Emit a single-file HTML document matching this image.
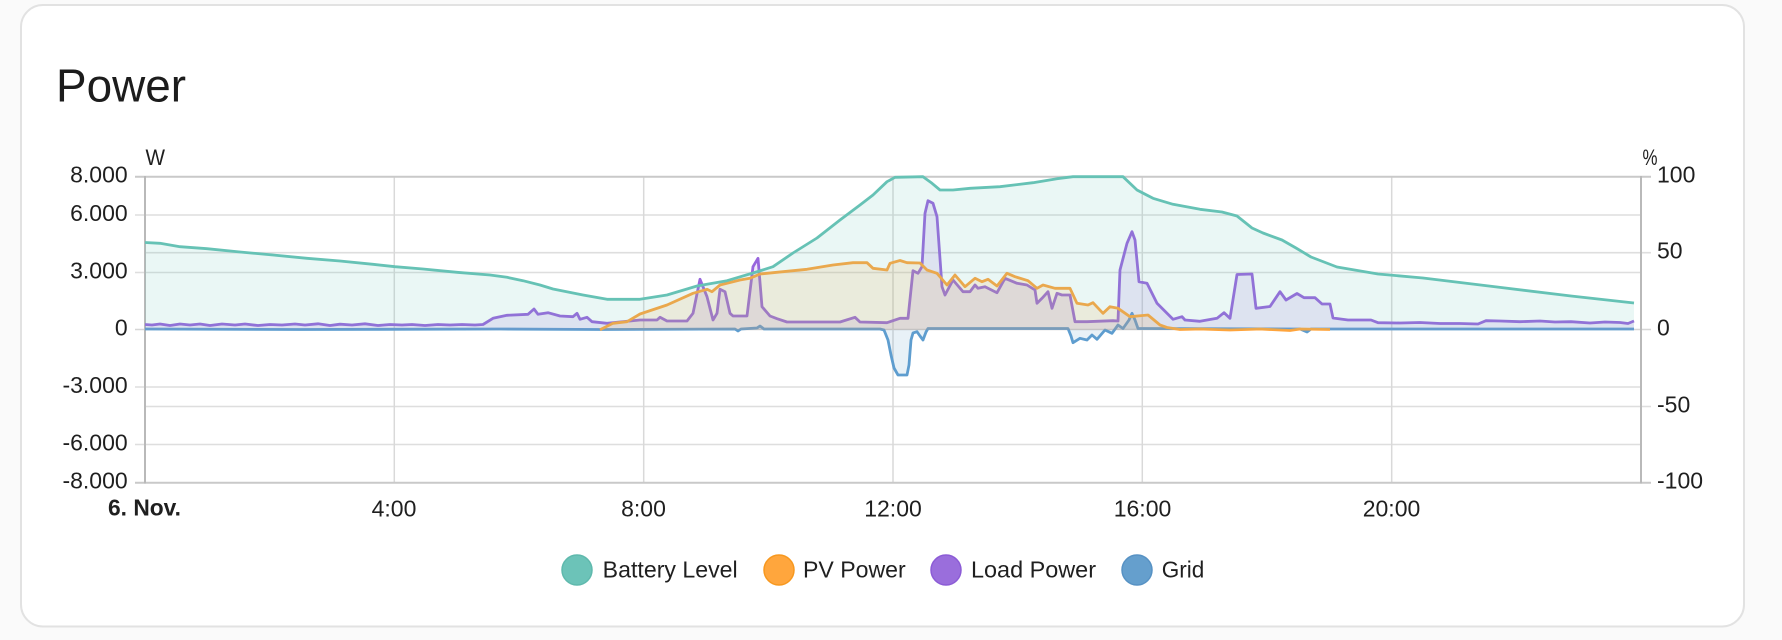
<!DOCTYPE html>
<html><head><meta charset="utf-8"><style>
html,body{margin:0;padding:0;background:#fafafa;}
svg{display:block;font-family:"Liberation Sans",Arial,sans-serif;}
</style></head><body>
<svg width="1782" height="640" viewBox="0 0 1782 640" xmlns="http://www.w3.org/2000/svg">
<rect x="0" y="0" width="1782" height="640" fill="#fafafa"/>
<rect x="21" y="5" width="1723" height="621.5" rx="22" ry="22" fill="#ffffff" stroke="#e2e2e2" stroke-width="2"/>
<text x="56" y="101.7" font-size="46" fill="#1c1c1c" textLength="130" lengthAdjust="spacingAndGlyphs">Power</text>

<!-- gridlines horizontal -->
<g stroke="#dedede" stroke-width="1.6">
<line x1="135" y1="215" x2="1641" y2="215"/>
<line x1="145" y1="252.7" x2="1651" y2="252.7"/>
<line x1="135" y1="272.5" x2="1641" y2="272.5"/>
<line x1="135" y1="387" x2="1641" y2="387"/>
<line x1="145" y1="406.5" x2="1651" y2="406.5"/>
<line x1="135" y1="444.5" x2="1641" y2="444.5"/>
</g>
<g stroke="#d6d6d6" stroke-width="1.6">
<line x1="135" y1="329.5" x2="1651" y2="329.5"/>
</g>
<!-- vertical gridlines -->
<g stroke="#d9d9d9" stroke-width="1.5">
<line x1="394.3" y1="176.7" x2="394.3" y2="482.7"/>
<line x1="643.7" y1="176.7" x2="643.7" y2="482.7"/>
<line x1="893" y1="176.7" x2="893" y2="482.7"/>
<line x1="1142.3" y1="176.7" x2="1142.3" y2="482.7"/>
<line x1="1391.7" y1="176.7" x2="1391.7" y2="482.7"/>
</g>
<g stroke="#c9c9c9" stroke-width="2">
<line x1="135" y1="176.7" x2="1651" y2="176.7"/>
<line x1="135" y1="482.7" x2="1651" y2="482.7"/>
</g>
<g stroke="#b9b9b9" stroke-width="2">
<line x1="145" y1="176" x2="145" y2="483.5"/>
<line x1="1641" y1="176" x2="1641" y2="483.5"/>
</g>

<!-- Grid series -->
<polygon fill="#649ecc" fill-opacity="0.15" points="145,329 300,329.5 500,329 600,329.5 735,329 738,331 741,329 757,328 760,326 764,329 880,329 884,330 888,340 891,355 894,368 898,375 907,375 909,365 911,340 913,333 917,331.7 920,336 923,340 926,332 928,328.5 1068,328.5 1071,336 1073,342.7 1080,338.3 1087,340 1092,335 1097,339.3 1105,330 1112,333.3 1118,325 1123,328.5 1129,320 1132,313.3 1135,320 1138,328.5 1300,329 1307,332 1311,329 1634,329 1634,329.7 145,329.7"/>
<polyline fill="none" stroke="#5e9dcf" stroke-width="2.8" stroke-linejoin="round" points="145,329 300,329.5 500,329 600,329.5 735,329 738,331 741,329 757,328 760,326 764,329 880,329 884,330 888,340 891,355 894,368 898,375 907,375 909,365 911,340 913,333 917,331.7 920,336 923,340 926,332 928,328.5 1068,328.5 1071,336 1073,342.7 1080,338.3 1087,340 1092,335 1097,339.3 1105,330 1112,333.3 1118,325 1123,328.5 1129,320 1132,313.3 1135,320 1138,328.5 1300,329 1307,332 1311,329 1634,329"/>

<!-- Load series -->
<polygon fill="#9a67dc" fill-opacity="0.15" points="145,324.5 152,325 160,324 170,325.5 180,324 190,325 200,324 210,325.5 222,324 235,325 245,324 258,325.5 270,324.5 282,325 295,324 305,325 318,323.8 330,325.5 340,324.2 352,325 365,323.8 378,325.5 390,324.5 402,325 412,324.5 425,325.5 438,324.5 450,325 462,324.5 475,325 483,324.5 493,318.3 507,315.3 528,314.3 534,309 538,314.3 548,312.7 560,316 573,316.7 577,313.3 580,319.3 587,317.3 592,321.7 607,323.3 640,320 657,320 660,317.3 667,321 687,321 693,313.3 700,279.3 707,296.7 713,320 717,313.3 720,289.3 725,291.7 730,313.3 733,316 747,316 753,266.7 758,258.3 762,306.7 770,316 777,318.7 787,322 840,322 855,317.3 860,322 887,322.7 900,318.3 908,318.3 913,270.7 918,273.3 922,266.7 925,213.3 928,200.7 933,203.3 937,216.7 942,286.7 945,295 953,280 963,291.7 970,291.7 975,285 978,288.3 985,286.7 997,292.7 1005,278.3 1017,283.3 1027,285 1035,290 1037,303.3 1042,298.3 1048,291.7 1052,308.3 1057,293.3 1062,295 1070,295 1075,321.7 1087,321.7 1113,320.7 1118,321 1120,270 1127,243.3 1132,231.7 1135,240 1139,281.7 1147,283.3 1157,303.3 1167,313.3 1173,319.3 1182,316.7 1185,320 1200,321.3 1217,318.3 1224,312.7 1230,318.3 1237,274.5 1252,274 1256,308.3 1270,306.5 1280,291.7 1286,300 1297,293.5 1304,297.7 1315,297.7 1322,304 1330,304 1333,318 1348,320 1371,320 1378,322.7 1400,323 1420,322.5 1440,323.5 1460,323.5 1478,324 1486,320.7 1500,321 1520,321.7 1540,321 1555,322 1571,321.7 1590,323 1605,322 1620,322.5 1628,323.5 1634,321 1634,329.7 145,329.7"/>
<polyline fill="none" stroke="#9865dd" stroke-width="2.8" stroke-linejoin="round" points="145,324.5 152,325 160,324 170,325.5 180,324 190,325 200,324 210,325.5 222,324 235,325 245,324 258,325.5 270,324.5 282,325 295,324 305,325 318,323.8 330,325.5 340,324.2 352,325 365,323.8 378,325.5 390,324.5 402,325 412,324.5 425,325.5 438,324.5 450,325 462,324.5 475,325 483,324.5 493,318.3 507,315.3 528,314.3 534,309 538,314.3 548,312.7 560,316 573,316.7 577,313.3 580,319.3 587,317.3 592,321.7 607,323.3 640,320 657,320 660,317.3 667,321 687,321 693,313.3 700,279.3 707,296.7 713,320 717,313.3 720,289.3 725,291.7 730,313.3 733,316 747,316 753,266.7 758,258.3 762,306.7 770,316 777,318.7 787,322 840,322 855,317.3 860,322 887,322.7 900,318.3 908,318.3 913,270.7 918,273.3 922,266.7 925,213.3 928,200.7 933,203.3 937,216.7 942,286.7 945,295 953,280 963,291.7 970,291.7 975,285 978,288.3 985,286.7 997,292.7 1005,278.3 1017,283.3 1027,285 1035,290 1037,303.3 1042,298.3 1048,291.7 1052,308.3 1057,293.3 1062,295 1070,295 1075,321.7 1087,321.7 1113,320.7 1118,321 1120,270 1127,243.3 1132,231.7 1135,240 1139,281.7 1147,283.3 1157,303.3 1167,313.3 1173,319.3 1182,316.7 1185,320 1200,321.3 1217,318.3 1224,312.7 1230,318.3 1237,274.5 1252,274 1256,308.3 1270,306.5 1280,291.7 1286,300 1297,293.5 1304,297.7 1315,297.7 1322,304 1330,304 1333,318 1348,320 1371,320 1378,322.7 1400,323 1420,322.5 1440,323.5 1460,323.5 1478,324 1486,320.7 1500,321 1520,321.7 1540,321 1555,322 1571,321.7 1590,323 1605,322 1620,322.5 1628,323.5 1634,321"/>

<!-- PV series -->
<polygon fill="#ffa43c" fill-opacity="0.15" points="600,329.7 613,323.3 627,321.7 640,314 667,305 693,293.3 707,289.3 712,291.7 720,285 740,280 750,278.3 760,274 773,272.7 807,269.3 833,265 853,262.7 867,262.7 873,268.3 887,270 890,263.3 900,260.5 907,262.7 920,263 927,270 937,273.3 947,285 955,275 965,286.7 975,278.3 982,281.7 988,279.3 997,286 1007,273.3 1015,276.7 1028,280.7 1037,288.3 1043,285 1055,288.3 1070,288.3 1077,303.3 1088,305 1093,302.7 1103,313.3 1110,306.7 1118,308.3 1130,316.7 1148,315 1160,325 1167,327.5 1180,329.5 1180,329.7"/>
<polyline fill="none" stroke="#ffa43c" stroke-width="2.8" stroke-linejoin="round" points="600,329.7 613,323.3 627,321.7 640,314 667,305 693,293.3 707,289.3 712,291.7 720,285 740,280 750,278.3 760,274 773,272.7 807,269.3 833,265 853,262.7 867,262.7 873,268.3 887,270 890,263.3 900,260.5 907,262.7 920,263 927,270 937,273.3 947,285 955,275 965,286.7 975,278.3 982,281.7 988,279.3 997,286 1007,273.3 1015,276.7 1028,280.7 1037,288.3 1043,285 1055,288.3 1070,288.3 1077,303.3 1088,305 1093,302.7 1103,313.3 1110,306.7 1118,308.3 1130,316.7 1148,315 1160,325 1167,327.5 1180,329.5 1200,329 1230,330 1260,329 1290,330.5 1300,329 1330,329.5"/>

<!-- Battery series -->
<polygon fill="#6cc3b8" fill-opacity="0.14" points="145,242.5 160,243.3 180,246.7 207,248.7 240,252 273,255 307,258.3 340,261 373,264.3 395,266.7 423,269 457,272.3 490,275 507,277.3 523,280.7 540,285 553,289 583,295 607,299.3 640,299.3 667,295 697,286 727,280.7 753,273 773,266.7 793,253 817,238 840,220 860,205 873,195 887,181.7 895,177.3 923,176.7 932,183.3 940,190 953,190 970,188.3 1000,186.7 1033,182.7 1057,178.7 1073,176.7 1123,176.7 1137,190 1153,198.3 1173,204.3 1200,209.3 1222,212 1237,216 1252,228 1263,233 1282,240 1296,248 1311,257 1337,267 1378,274 1423,278 1497,287 1571,296 1634,303 1634,329.7 145,329.7"/>
<polyline fill="none" stroke="#66c2b5" stroke-width="2.8" stroke-linejoin="round" points="145,242.5 160,243.3 180,246.7 207,248.7 240,252 273,255 307,258.3 340,261 373,264.3 395,266.7 423,269 457,272.3 490,275 507,277.3 523,280.7 540,285 553,289 583,295 607,299.3 640,299.3 667,295 697,286 727,280.7 753,273 773,266.7 793,253 817,238 840,220 860,205 873,195 887,181.7 895,177.3 923,176.7 932,183.3 940,190 953,190 970,188.3 1000,186.7 1033,182.7 1057,178.7 1073,176.7 1123,176.7 1137,190 1153,198.3 1173,204.3 1200,209.3 1222,212 1237,216 1252,228 1263,233 1282,240 1296,248 1311,257 1337,267 1378,274 1423,278 1497,287 1571,296 1634,303"/>

<!-- axis units -->
<text x="145.5" y="165" font-size="22" fill="#1f1f1f" textLength="19.5" lengthAdjust="spacingAndGlyphs">W</text>
<text x="1642.5" y="165" font-size="22" fill="#1f1f1f" textLength="15" lengthAdjust="spacingAndGlyphs">%</text>

<!-- left labels -->
<g font-size="23" fill="#1f1f1f" text-anchor="end">
<text x="127.7" y="182.5">8.000</text>
<text x="127.7" y="221">6.000</text>
<text x="127.7" y="278.5">3.000</text>
<text x="127.7" y="335.5">0</text>
<text x="127.7" y="393">-3.000</text>
<text x="127.7" y="450.5">-6.000</text>
<text x="127.7" y="488.5">-8.000</text>
</g>
<!-- right labels -->
<g font-size="23" fill="#1f1f1f">
<text x="1657" y="182.5">100</text>
<text x="1657" y="258.7">50</text>
<text x="1657" y="335.5">0</text>
<text x="1657" y="412.5">-50</text>
<text x="1657" y="488.5">-100</text>
</g>
<!-- x labels -->
<g font-size="23" fill="#1f1f1f" text-anchor="middle">
<text x="144.5" y="515.7" font-weight="bold" textLength="73" lengthAdjust="spacingAndGlyphs">6. Nov.</text>
<text x="394" y="516.7">4:00</text>
<text x="643.5" y="516.7">8:00</text>
<text x="893" y="516.7">12:00</text>
<text x="1142.5" y="516.7">16:00</text>
<text x="1391.5" y="516.7">20:00</text>
</g>

<!-- legend -->
<circle cx="577" cy="570" r="15" fill="#6cc3b8" stroke="#5fb9ad" stroke-width="1.5"/>
<circle cx="779" cy="570" r="15" fill="#ffa63d" stroke="#f7981f" stroke-width="1.5"/>
<circle cx="946" cy="570" r="15" fill="#9a6edc" stroke="#8c5cd6" stroke-width="1.5"/>
<circle cx="1137" cy="570" r="15" fill="#659fcd" stroke="#5792c4" stroke-width="1.5"/>
<g font-size="23" fill="#1f1f1f">
<text x="602.7" y="577.5" textLength="135" lengthAdjust="spacingAndGlyphs">Battery Level</text>
<text x="803" y="577.5" textLength="102.7" lengthAdjust="spacingAndGlyphs">PV Power</text>
<text x="971" y="577.5" textLength="125" lengthAdjust="spacingAndGlyphs">Load Power</text>
<text x="1161.7" y="577.5" textLength="42.6" lengthAdjust="spacingAndGlyphs">Grid</text>
</g>
</svg>
</body></html>
